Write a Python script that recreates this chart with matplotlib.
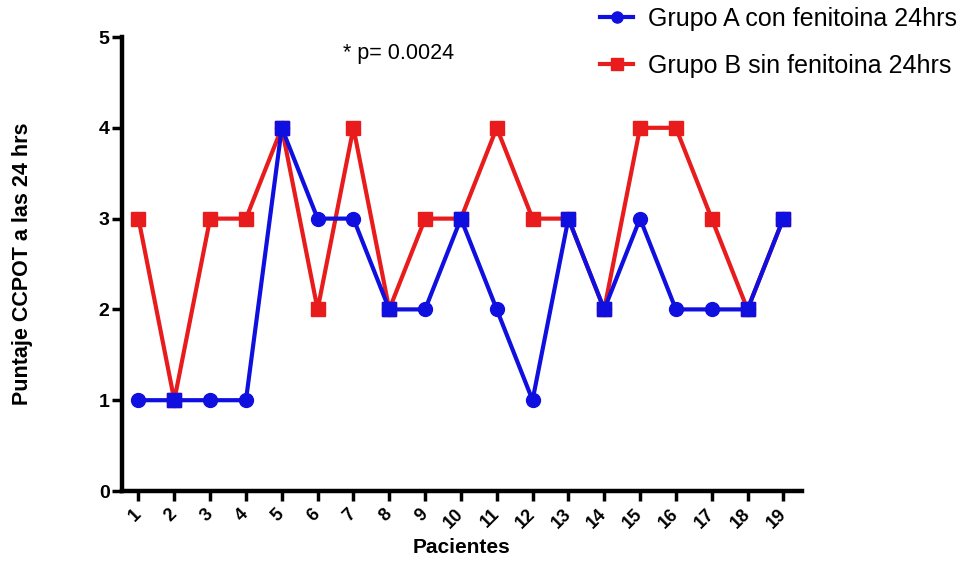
import matplotlib.pyplot as plt
import numpy as np

plt.rcParams['font.family'] = ['Liberation Sans', 'DejaVu Sans']

pacientes = list(range(1, 20))
grupo_a = [1, 1, 1, 1, 4, 3, 3, 2, 2, 3, 2, 1, 3, 2, 3, 2, 2, 2, 3]
grupo_b = [3, 1, 3, 3, 4, 2, 4, 2, 3, 3, 4, 3, 3, 2, 4, 4, 3, 2, 3]
etiquetas = ["Grupo A con fenitoina 24hrs", "Grupo B sin fenitoina 24hrs"]

azul = "#0f0fe0"
rojo = "#e81c1c"

fig = plt.figure(figsize=(9.76, 5.72), dpi=100)
ax = fig.add_axes([0.125, 0.1416, 0.6967, 0.7937])

lb, = ax.plot(pacientes, grupo_b, color=rojo, lw=3, marker='s', ms=10,
              mec=rojo, mfc=rojo, zorder=3, clip_on=False)
la, = ax.plot(pacientes, grupo_a, color=azul, lw=3, marker='o', ms=10,
              mec=azul, mfc=azul, zorder=4, clip_on=False)

# puntos coincidentes: Prism dibuja el cuadrado en azul
iguales = [i for i in range(len(pacientes)) if grupo_a[i] == grupo_b[i]]
ax.plot([pacientes[i] for i in iguales], [grupo_a[i] for i in iguales],
        ls='none', marker='s', ms=10, color=azul, zorder=5, clip_on=False)

ax.set_xlim(0.54, 19.52)
ax.set_ylim(0, 5)
ax.set_xticks(pacientes)
ax.set_xticklabels([str(p) for p in pacientes], rotation=45, ha='right',
                   va='center', rotation_mode='anchor', fontweight='bold',
                   fontsize=13)
ax.set_yticks(range(6))
ax.set_yticklabels([str(v) for v in range(6)], fontweight='bold', fontsize=14)

for s in ['top', 'right']:
    ax.spines[s].set_visible(False)
for s in ['left', 'bottom']:
    ax.spines[s].set_linewidth(3.2)
ax.tick_params(axis='both', width=2.5, length=7, pad=2)
ax.tick_params(axis='x', pad=8)

ax.set_xlabel("Pacientes", fontweight='bold', fontsize=15, labelpad=4)
ax.set_ylabel("Puntaje CCPOT a las 24 hrs", fontweight='bold', fontsize=15.5)
ax.yaxis.set_label_coords(-0.131, 0.5)

fig.text(343 / 976, 1 - 53 / 572, "* p= 0.0024", fontsize=15.5, va='center', ha='left')

fig.legend([la, lb], etiquetas, loc='upper left', bbox_to_anchor=(600 / 976, 1 - 7 / 572),
           frameon=False, fontsize=18, handlelength=1.32, handletextpad=0.6,
           labelspacing=0.9, borderpad=0, borderaxespad=0, markerscale=0.8)

fig.savefig("out.png", dpi=100)
